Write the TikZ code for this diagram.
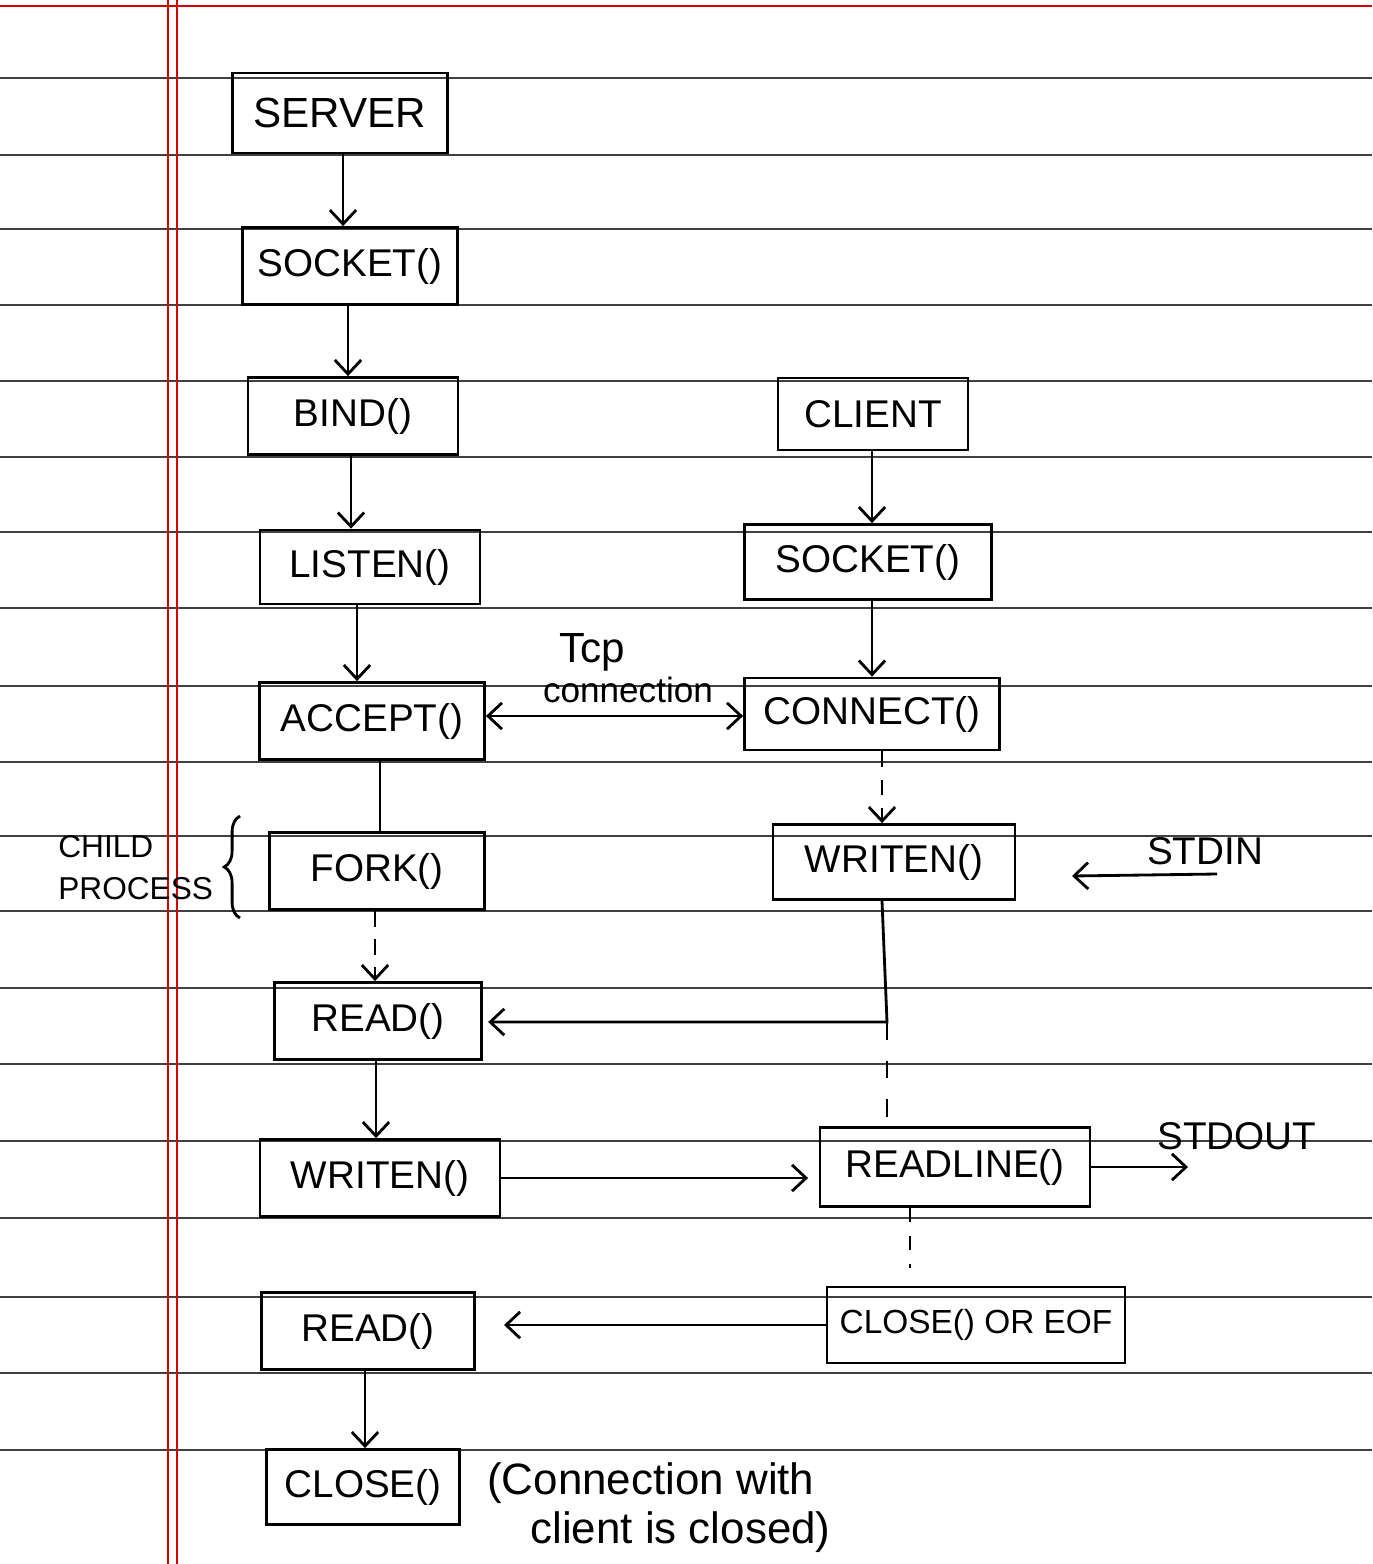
\documentclass[tikz,border=0pt]{standalone}
\usepackage{fontspec}
\setmainfont{Liberation Sans}
\usetikzlibrary{arrows.meta,decorations.pathreplacing}
\begin{document}
\begin{tikzpicture}[x=0.02cm,y=-0.02cm,
  >={Straight Barb[length=8pt,width=15pt]},
  box/.style={draw,line width=1.6pt,inner sep=0pt,font=\fontsize{22}{26}\selectfont},
  arr/.style={line width=1.6pt,->},
  dbl/.style={line width=1.6pt,<->},
  darr/.style={arr,dash pattern=on 9pt off 7pt},
  ln/.style={line width=1.6pt},
  rulel/.style={line width=1.1pt,black!75},
  marginl/.style={line width=1pt,red!85!black},
  lbl/.style={font=\fontsize{20}{24}\selectfont,inner sep=0pt}]
\useasboundingbox (0,0) rectangle (1372,1564);
% ruled paper
\foreach \yy in {78,155,229,305,381,457,532,608,686,762,836,911,988,1064,1141,1218,1297,1373,1450}
  \draw[rulel] (0,\yy) -- (1372,\yy);
\draw[marginl] (168,0) -- (168,1564);
\draw[marginl] (177,0) -- (177,1564);
\draw[marginl] (0,6) -- (1372,6);
% server column
\node[box,minimum width=4.3cm,minimum height=1.6cm,font=\fontsize{24}{28}\selectfont] (server) at (340,113) {SERVER};
\node[box,minimum width=4.3cm,minimum height=1.54cm] (sockS) at (350,266) {SOCKET()};
\node[box,minimum width=4.2cm,minimum height=1.54cm] (bind) at (353,416) {BIND()};
\node[box,minimum width=4.4cm,minimum height=1.48cm] (listen) at (370,567) {LISTEN()};
\node[box,minimum width=4.5cm,minimum height=1.54cm] (accept) at (372,721) {ACCEPT()};
\node[box,minimum width=4.3cm,minimum height=1.54cm] (fork) at (377,871) {FORK()};
\node[box,minimum width=4.14cm,minimum height=1.54cm] (readA) at (378,1021) {READ()};
\node[box,minimum width=4.8cm,minimum height=1.54cm] (writenS) at (380,1178) {WRITEN()};
\node[box,minimum width=4.26cm,minimum height=1.54cm] (readB) at (368,1331) {READ()};
\node[box,minimum width=3.86cm,minimum height=1.5cm] (close) at (363,1487) {CLOSE()};
% client column
\node[box,minimum width=3.8cm,minimum height=1.44cm] (client) at (873,414) {CLIENT};
\node[box,minimum width=4.94cm,minimum height=1.5cm] (sockC) at (868,562) {SOCKET()};
\node[box,minimum width=5.1cm,minimum height=1.44cm] (connect) at (872,714) {CONNECT()};
\node[box,minimum width=4.84cm,minimum height=1.5cm] (writenC) at (894,862) {WRITEN()};
\node[box,minimum width=5.4cm,minimum height=1.58cm] (readline) at (955,1167) {READLINE()};
\node[box,minimum width=5.96cm,minimum height=1.52cm,font=\fontsize{19}{22}\selectfont] (closeeof) at (976,1325) {CLOSE() OR EOF};
% labels
\node[lbl,font=\fontsize{24}{28}\selectfont] (tcp) at (592,652) {Tcp};
\node[lbl] (conn) at (628,690) {connection};
\node[lbl,align=left,anchor=west,font=\fontsize{18}{24}\selectfont] (child) at (58,868) {CHILD\\PROCESS};
\node[lbl,font=\fontsize{22}{26}\selectfont] (stdin) at (1205,851) {STDIN};
\node[lbl,font=\fontsize{22}{26}\selectfont] (stdout) at (1237,1136) {STDOUT};
\node[lbl,anchor=west,font=\fontsize{25}{30}\selectfont] (note1) at (487,1483) {(Connection with};
\node[lbl,anchor=west,font=\fontsize{25}{30}\selectfont] (note2) at (530,1532) {client is closed)};
\coordinate (inS) at (1217,874);
\coordinate (inE) at (1072,876);
\coordinate (outE) at (1188,1165);
\coordinate (j1) at (887,1022);
% connectors server
\draw[arr] (server.south -| 343,0) -- (sockS.north -| 343,0);
\draw[arr] (sockS.south -| 348,0) -- (bind.north -| 348,0);
\draw[arr] (bind.south -| 351,0) -- (listen.north -| 351,0);
\draw[arr] (listen.south -| 357,0) -- (accept.north -| 357,0);
\draw[ln] (accept.south -| 380,0) -- (fork.north -| 380,0);
\draw[darr] (fork.south -| 375,0) -- (readA.north -| 375,0);
\draw[arr] (readA.south -| 376,0) -- (writenS.north -| 376,0);
\draw[arr] (readB.south -| 365,0) -- (close.north -| 365,0);
% connectors client
\draw[arr] (client.south -| 872,0) -- (sockC.north -| 872,0);
\draw[arr] (sockC.south -| 872,0) -- (connect.north -| 872,0);
\draw[darr] (connect.south -| 882,0) -- (writenC.north -| 882,0);
\draw[dbl] (accept.east |- 0,716) -- (connect.west |- 0,716);
\draw[arr] (inS) -- (inE);
\draw[arr] (writenC.south -| 882,0) -- (j1) -- ([xshift=3pt]readA.east |- j1);
\draw[ln,dash pattern=on 10pt off 12pt] (j1) -- (readline.north -| j1);
\draw[arr,shorten >=6pt] (writenS.east) -- (readline.west |- writenS.east);
\draw[arr] (readline.east) -- (outE |- readline.east);
\draw[ln,dash pattern=on 8pt off 8pt,shorten >=10pt] (readline.south -| 910,0) -- (closeeof.north -| 910,0);
\draw[arr,shorten >=16pt] (closeeof.west) -- (readB.east |- closeeof.west);
% brace
\draw[ln,decorate,decoration={brace,amplitude=9pt}] (240,918) -- (240,816);
\end{tikzpicture}
\end{document}
